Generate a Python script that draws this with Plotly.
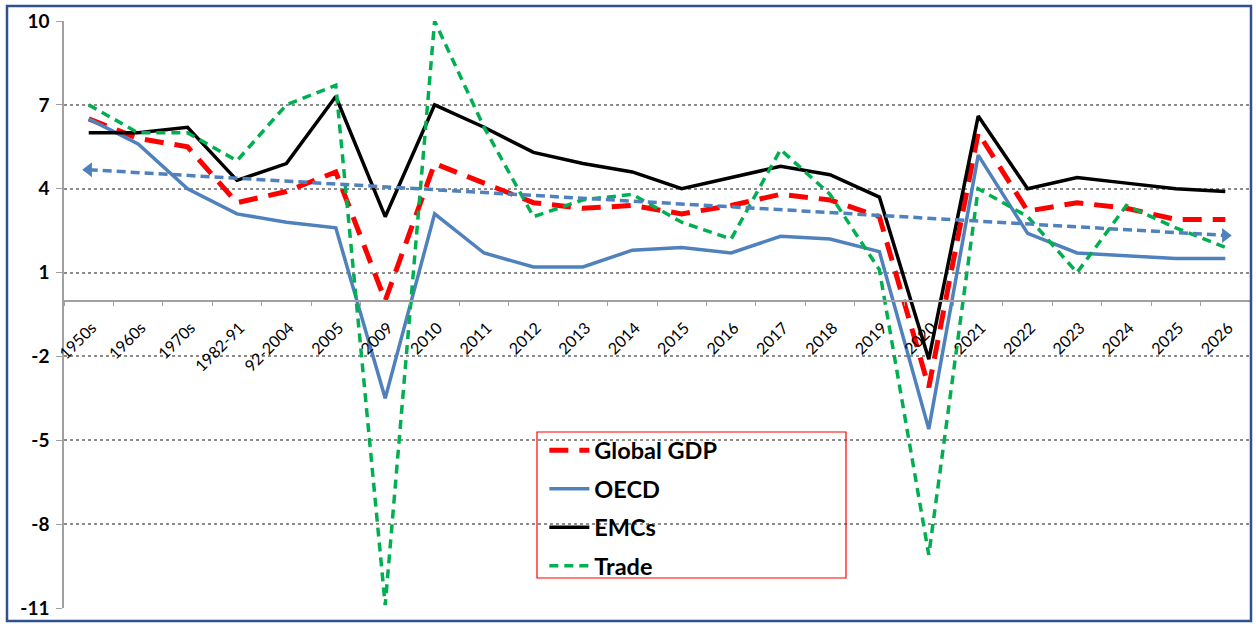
import plotly.graph_objects as go

categories = ["1950s", "1960s", "1970s", "1982-91", "92-2004", "2005", "2009",
              "2010", "2011", "2012", "2013", "2014", "2015", "2016", "2017",
              "2018", "2019", "2020", "2021", "2022", "2023", "2024", "2025", "2026"]

global_gdp = [6.5, 5.8, 5.5, 3.5, 3.9, 4.6, 0.0,
              4.9, 4.2, 3.5, 3.3, 3.4, 3.1, 3.4, 3.8, 3.6, 3.0, -3.1, 6.0, 3.2, 3.5, 3.3, 2.9, 2.9]
oecd = [6.5, 5.6, 4.0, 3.1, 2.8, 2.6, -3.5,
        3.1, 1.7, 1.2, 1.2, 1.8, 1.9, 1.7, 2.3, 2.2, 1.75, -4.6, 5.2, 2.4, 1.7, 1.6, 1.5, 1.5]
emcs = [6.0, 6.0, 6.2, 4.3, 4.9, 7.3, 3.0,
        7.0, 6.2, 5.3, 4.9, 4.6, 4.0, 4.4, 4.8, 4.5, 3.7, -2.1, 6.6, 4.0, 4.4, 4.2, 4.0, 3.9]
trade = [7.0, 6.0, 6.0, 5.0, 7.0, 7.7, -10.9,
         10.0, 6.2, 3.0, 3.6, 3.8, 2.8, 2.2, 5.4, 3.8, 1.1, -9.1, 4.0, 3.0, 1.0, 3.4, 2.6, 1.9]

trend_x = [categories[0], categories[-1]]
trend_y = [4.68, 2.33]

y_ticks = [-11, -8, -5, -2, 1, 4, 7, 10]
y_tick_text = ["-11", "-8", "-5", "-2", "1", "4", "7", "10"]
y_min, y_max = -11, 10

fig = go.Figure()

fig.add_trace(go.Scatter(x=categories, y=global_gdp, name="Global GDP", mode="lines",
                         line=dict(color="#FF0000", width=5, dash="19px,11px"),
                         legendgroup="a"))
fig.add_trace(go.Scatter(x=categories, y=oecd, name="OECD", mode="lines",
                         line=dict(color="#4F81BD", width=3.5),
                         legendgroup="b"))
fig.add_trace(go.Scatter(x=categories, y=emcs, name="EMCs", mode="lines",
                         line=dict(color="#000000", width=3.5),
                         legendgroup="c"))
fig.add_trace(go.Scatter(x=categories, y=trade, name="Trade", mode="lines",
                         line=dict(color="#00B050", width=3.5, dash="9px,6px"),
                         legendgroup="d"))
fig.add_trace(go.Scatter(x=trend_x, y=trend_y, mode="lines+markers", showlegend=False,
                         line=dict(color="#4F81BD", width=3.5, dash="9px,5px"),
                         marker=dict(symbol=["triangle-left", "triangle-right"], size=13,
                                     color="#4F81BD")))

fig.update_layout(
    width=1256, height=627,
    margin=dict(l=64, r=6, t=21, b=19),
    paper_bgcolor="white", plot_bgcolor="white",
    font=dict(family="Lato, Carlito, Liberation Sans, sans-serif", color="black"),
    showlegend=True,
    legend=dict(x=0.405, y=0.306, xanchor="left", yanchor="top",
                bgcolor="rgba(0,0,0,0)", borderwidth=0,
                font=dict(size=23.5, weight="bold", color="black"),
                tracegroupgap=5, itemwidth=40),
    xaxis=dict(type="category", categoryorder="array", categoryarray=categories,
               range=[-0.5, len(categories) - 0.5],
               anchor="free", position=(0 - y_min) / (y_max - y_min),
               showline=True, linecolor="#A0A0A0", linewidth=1.5,
               ticks="outside", tickson="boundaries", ticklen=5, tickcolor="#A0A0A0",
               tickangle=-45, tickfont=dict(size=16, color="black"),
               showgrid=False, zeroline=False, ticklabelstandoff=11, ticklabelshift=3),
    yaxis=dict(range=[y_min, y_max], tickvals=y_ticks, ticktext=y_tick_text, domain=[0, 1],
               showline=True, linecolor="#A0A0A0", linewidth=1.5,
               ticks="outside", ticklen=6, tickcolor="#A0A0A0",
               tickfont=dict(size=19, weight="bold", color="black"),
               ticklabelstandoff=3,
               showgrid=True, gridcolor="#8C8C8C", gridwidth=2, griddash="dot",
               zeroline=False),
)

# legend frame
fig.add_shape(type="rect", xref="paper", yref="paper",
              x0=(537 - 64) / 1186, x1=(846 - 64) / 1186,
              y0=(608 - 578) / 587, y1=(608 - 432) / 587,
              line=dict(color="#FF0000", width=1.2), fillcolor="rgba(0,0,0,0)")
# outer chart border
fig.add_shape(type="rect", xref="paper", yref="paper",
              x0=(7 - 64) / 1186, x1=(1251 - 64) / 1186,
              y0=(608 - 621) / 587, y1=(608 - 6) / 587,
              line=dict(color="#2F528F", width=2.5), fillcolor="rgba(0,0,0,0)")

fig.write_html("out.html",
               config={"displayModeBar": False},
               post_script="document.body.style.margin='0';document.body.style.overflow='hidden';")
